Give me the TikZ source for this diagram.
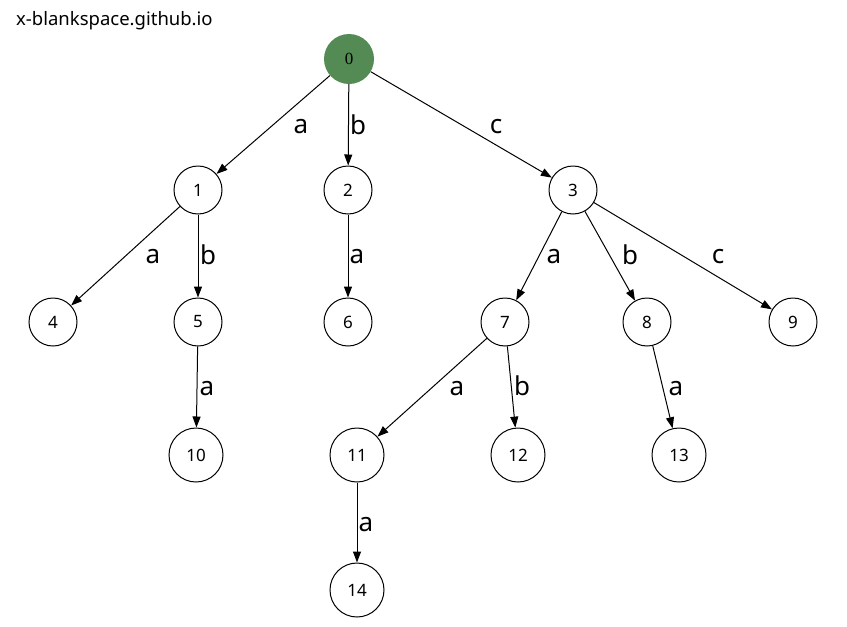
\documentclass[tikz,border=0pt]{standalone}
\usepackage{fontspec}
\setmainfont{Noto Sans}
\newfontfamily\rootfont{Liberation Serif}
\usetikzlibrary{arrows.meta}
\definecolor{rootgreen}{RGB}{84,139,84}

\begin{document}
\begin{tikzpicture}[
  x=1pt,
  y=-1pt,
  state/.style={circle, draw=black, line width=1pt, fill=white, minimum size=48pt, inner sep=0pt, font=\fontsize{17}{17}\selectfont},
  bigstate/.style={state, minimum size=54pt},
  rootstate/.style={circle, fill=rootgreen, minimum size=50pt, inner sep=0pt, font=\rootfont\fontsize{17}{17}\selectfont},
  lbl/.style={inner sep=0pt, font=\fontsize{26}{26}\selectfont},
  edge/.style={line width=1pt, -{Triangle[length=11pt, width=8pt]}}
]
\useasboundingbox (0,0) rectangle (847,627);
\node[anchor=base west, inner sep=0pt, font=\fontsize{18.5}{18.5}\selectfont] (site) at (16,25) {x-blankspace.github.io};

\node[rootstate] (n0) at (349,59) {0};

\node[state] (n1) at (198,190) {1};
\node[state] (n2) at (348,190) {2};
\node[state] (n3) at (573,190) {3};

\node[state] (n4) at (53,322) {4};
\node[state] (n5) at (198,322) {5};
\node[state] (n6) at (348,322) {6};
\node[state] (n7) at (505,322) {7};
\node[state] (n8) at (647,322) {8};
\node[state] (n9) at (793,322) {9};

\node[bigstate] (n10) at (196,455) {10};
\node[bigstate] (n11) at (357,455) {11};
\node[bigstate] (n12) at (518,455) {12};
\node[bigstate] (n13) at (679,455) {13};

\node[bigstate] (n14) at (357,590) {14};

\draw[edge] (n0) -- (n1) node[lbl] at (301,127) {a};
\draw[edge] (n0) -- (n2) node[lbl] at (358,125) {b};
\draw[edge] (n0) -- (n3) node[lbl] at (496,127) {c};

\draw[edge] (n1) -- (n4) node[lbl] at (153,257) {a};
\draw[edge] (n1) -- (n5) node[lbl] at (208,255) {b};
\draw[edge] (n2) -- (n6) node[lbl] at (357,257) {a};
\draw[edge] (n3) -- (n7) node[lbl] at (554,257) {a};
\draw[edge] (n3) -- (n8) node[lbl] at (630,255) {b};
\draw[edge] (n3) -- (n9) node[lbl] at (718,257) {c};

\draw[edge] (n5) -- (n10) node[lbl] at (207,389) {a};
\draw[edge] (n7) -- (n11) node[lbl] at (457,389) {a};
\draw[edge] (n7) -- (n12) node[lbl] at (522,386) {b};
\draw[edge] (n8) -- (n13) node[lbl] at (676,389) {a};

\draw[edge] (n11) -- (n14) node[lbl] at (366,525) {a};
\end{tikzpicture}
\end{document}
